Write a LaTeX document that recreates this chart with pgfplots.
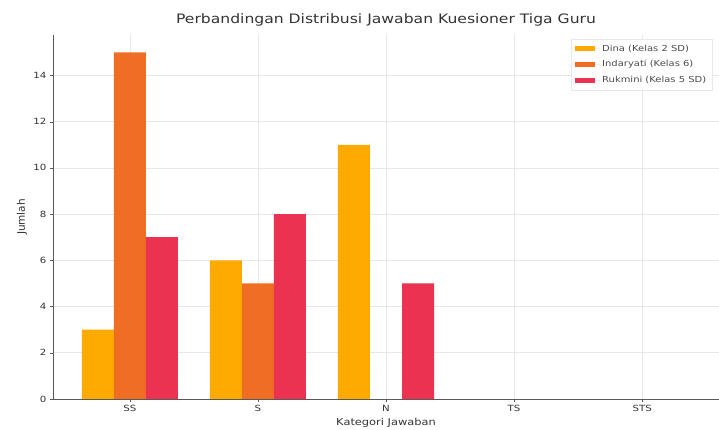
\documentclass[border=0pt]{standalone}
\usepackage{pgfplots}
\pgfplotsset{compat=1.18}
\usepackage{fontspec}
\setmainfont{DejaVu Sans}[FakeStretch=1.2]
\newfontfamily\plainfont{DejaVu Sans}
\definecolor{dina}{RGB}{255,170,0}
\definecolor{inda}{RGB}{240,110,35}
\definecolor{rukm}{RGB}{235,50,80}
\definecolor{gridgray}{RGB}{232,232,232}
\definecolor{axgray}{RGB}{90,90,90}
\begin{document}
\begin{tikzpicture}
\begin{axis}[
at={(0,0)}, anchor=south west,
scale only axis,
width=666pt, height=364pt,
xmin=-0.6, xmax=4.6,
ymin=0, ymax=15.75,
axis x line*=bottom, axis y line*=left,
axis line style={axgray, -},
xtick={0,1,2,3,4},
xticklabels={SS,S,N,TS,STS},
ytick={0,2,4,6,8,10,12,14},
tick align=outside,
tick style={axgray},
major tick length=3pt,
xmajorgrids, ymajorgrids,
grid style={gridgray, line width=0.6pt},
tick label style={font=\fontsize{8.5}{10}\selectfont, text=black!80},
/pgf/number format/assume math mode=true,
xlabel={Kategori Jawaban},
ylabel={Jumlah},
label style={text=black!80},
xlabel style={font=\fontsize{9.5}{11}\selectfont, at={(axis description cs:0.5,-0.066)}, anchor=center},
ylabel style={font=\plainfont\fontsize{10.5}{12}\selectfont, at={(axis description cs:-0.0465,0.5)}, anchor=center},
title={Perbandingan Distribusi Jawaban Kuesioner Tiga Guru},
title style={font=\fontsize{13}{15}\selectfont, text=black!80, at={(0.5,1)}, anchor=base, yshift=5pt},
ybar=0pt, bar width=0.25,
legend style={at={(0.99,0.99)}, anchor=north east, draw=gridgray, fill=white, font=\fontsize{8.3}{10}\selectfont, text=black!70, row sep=4pt, inner sep=4pt},
legend cell align=left,
legend image code/.code={\fill[#1] (0pt,-2.5pt) rectangle (20pt,2.5pt); \path (0pt,0pt) -- (25pt,0pt);},
]
\addplot[fill=dina, draw=none] coordinates {(0,3) (1,6) (2,11)};
\addplot[fill=inda, draw=none] coordinates {(0,15) (1,5)};
\addplot[fill=rukm, draw=none] coordinates {(0,7) (1,8) (2,5)};
\legend{Dina (Kelas 2 SD), Indaryati (Kelas 6), Rukmini (Kelas 5 SD)}
\end{axis}
\pgfresetboundingbox
\useasboundingbox (-53pt,-31pt) rectangle (666pt,399pt);
\end{tikzpicture}
\end{document}
